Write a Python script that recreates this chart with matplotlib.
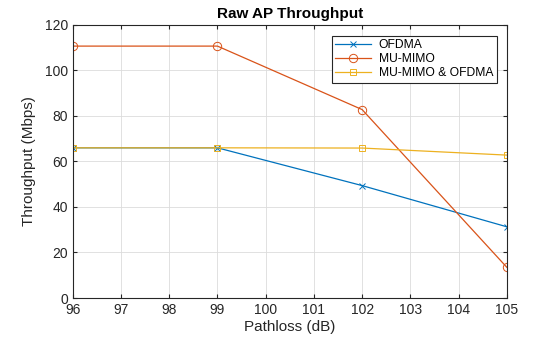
import numpy as np
import matplotlib
matplotlib.use('Agg')
import matplotlib.pyplot as plt

plt.rcParams['font.family'] = ['Liberation Sans', 'DejaVu Sans']

pathloss = [96, 99, 102, 105]
ofdma = [66, 66, 49.4, 31.3]
mumimo = [110.7, 110.7, 82.8, 13.5]
mumimo_ofdma = [66, 66, 65.9, 62.8]
series_names = ['OFDMA', 'MU-MIMO', 'MU-MIMO & OFDMA']

fig = plt.figure(figsize=(5.6, 3.37), dpi=100)
ax = fig.add_axes([0.130, 0.1157, 0.775, 0.8103])

ax.plot(pathloss, ofdma, color='#0072BD', marker='x', markersize=4.5, mew=0.7, lw=0.9, label=series_names[0])
ax.plot(pathloss, mumimo, color='#D95319', marker='o', markersize=6, mew=0.7, mfc='none', lw=0.9, label=series_names[1])
ax.plot(pathloss, mumimo_ofdma, color='#EDB120', marker='s', markersize=5, mew=0.7, mfc='none', lw=0.9, label=series_names[2])

ax.set_xlim(96, 105)
ax.set_ylim(0, 120)
ax.set_xticks(np.arange(96, 106))
ax.set_yticks(np.arange(0, 121, 20))
ax.grid(True, color='#dcdcdc', lw=0.6)
ax.set_axisbelow(True)
ax.tick_params(direction='in', length=3, labelsize=10, colors='#262626', top=True, right=True, labeltop=False, labelright=False)
for s in ax.spines.values():
    s.set_color('#262626')
    s.set_linewidth(0.8)

ax.set_xlabel('Pathloss (dB)', fontsize=11, color='#262626', labelpad=2)
ax.set_ylabel('Throughput (Mbps)', fontsize=11, color='#262626', labelpad=6)
ax.set_title('Raw AP Throughput', fontsize=11, fontweight='bold', color='#000000', pad=5)

leg = ax.legend(loc='upper right', bbox_to_anchor=(0.977, 0.96), fontsize=8.7, frameon=True, fancybox=False,
                edgecolor='#262626', framealpha=1, borderpad=0.3, labelspacing=0.15, handlelength=3.0, handletextpad=0.6, borderaxespad=0)
leg.get_frame().set_linewidth(0.8)

fig.savefig('out.png', dpi=100)
